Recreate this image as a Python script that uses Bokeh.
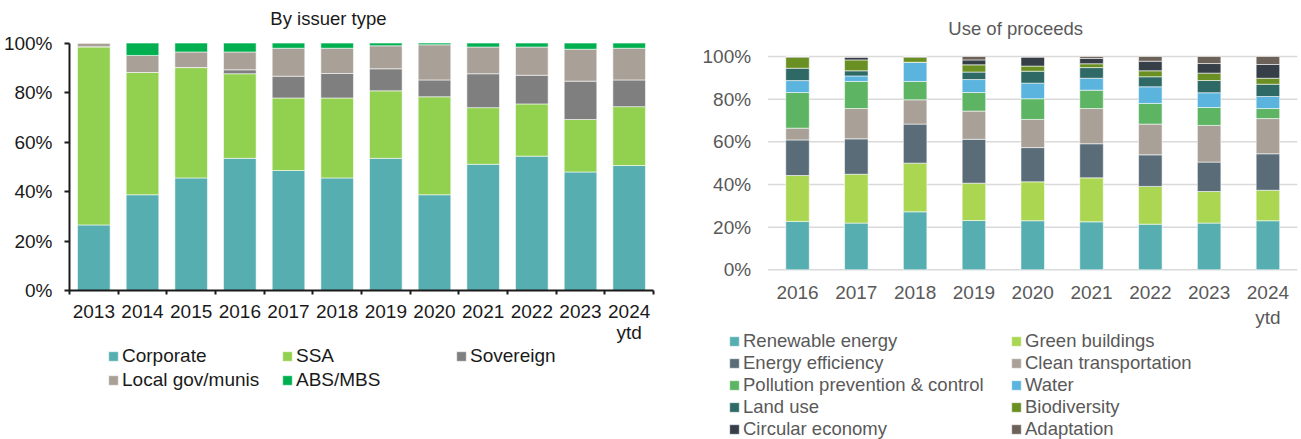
from bokeh.plotting import figure
from bokeh.layouts import row, column
from bokeh.models import Range1d, FixedTicker, ColumnDataSource, Label
from bokeh.core.properties import value
from bokeh.embed import file_html
from bokeh.resources import INLINE

FONT = "Liberation Sans"

# ---------------- data: by issuer type ----------------
years_issuer = ["2013", "2014", "2015", "2016", "2017", "2018", "2019",
                "2020", "2021", "2022", "2023", "2024\nytd"]
corporate = [26.5, 38.7, 45.5, 53.4, 48.5, 45.5, 53.4, 38.7, 51.0, 54.3, 47.9, 50.5]
ssa       = [72.0, 49.4, 44.6, 34.2, 29.3, 32.3, 27.3, 39.6, 22.9, 21.1, 21.2, 23.8]
sovereign = [0.0, 0.0, 0.0, 1.6, 8.8, 9.9, 8.9, 6.8, 13.7, 11.6, 15.5, 10.8]
local_gov = [1.5, 6.9, 6.3, 7.2, 11.3, 10.2, 9.3, 14.2, 10.8, 11.4, 12.9, 12.8]
abs_mbs   = [0.0, 5.0, 3.6, 3.6, 2.1, 2.1, 1.1, 0.7, 1.6, 1.6, 2.5, 2.1]
issuer_names = ["Corporate", "SSA", "Sovereign", "Local gov/munis", "ABS/MBS"]
issuer_colors = ["#57AEB0", "#92D050", "#7F7F7F", "#A9A097", "#00B050"]

# ---------------- data: use of proceeds ----------------
years_use = ["2016", "2017", "2018", "2019", "2020", "2021", "2022", "2023", "2024\nytd"]
renewable   = [22.7, 21.9, 27.2, 23.1, 23.0, 22.5, 21.4, 21.9, 23.0]
green_bld   = [21.5, 22.9, 22.8, 17.5, 18.25, 20.6, 17.7, 14.8, 14.3]
energy_eff  = [16.7, 16.6, 18.3, 20.6, 16.05, 16.0, 14.8, 13.8, 17.1]
clean_trans = [5.5, 14.2, 11.4, 13.2, 13.2, 16.5, 14.4, 17.2, 16.5]
pollution   = [16.7, 12.7, 8.6, 8.7, 9.7, 8.6, 9.7, 8.4, 4.7]
water       = [5.6, 2.6, 9.0, 6.1, 7.3, 5.6, 7.8, 6.9, 5.65]
land_use    = [5.8, 2.4, 0.0, 3.5, 5.6, 5.0, 4.7, 5.75, 5.75]
biodiv      = [5.2, 5.1, 2.4, 3.4, 2.4, 1.8, 2.8, 3.45, 2.8]
circular    = [0.3, 1.2, 0.3, 2.3, 4.2, 2.5, 4.5, 4.5, 6.45]
adaptation  = [0.0, 0.4, 0.0, 1.6, 0.3, 0.9, 2.2, 3.3, 3.75]
use_names = ["Renewable energy", "Green buildings", "Energy efficiency",
             "Clean transportation", "Pollution prevention & control", "Water",
             "Land use", "Biodiversity", "Circular economy", "Adaptation"]
use_colors = ["#56AEB1", "#AAD652", "#5A6C78", "#A9A198", "#5DB462",
              "#5BB4DE", "#2E6966", "#6A8F22", "#363F47", "#6C6259"]

pct_ticks = [0, 20, 40, 60, 80, 100]
pct_labels = ["0%", "20%", "40%", "60%", "80%", "100%"]
titles = ["By issuer type", "Use of proceeds"]

keys_l = ["corporate", "ssa", "sovereign", "local_gov", "abs_mbs"]
keys_r = ["renewable", "green_bld", "energy_eff", "clean_trans", "pollution",
          "water", "land_use", "biodiv", "circular", "adaptation"]

BAR_LINE = dict(line_color="white", line_width=0.8, line_alpha=0.7)


def legend_figure(width, height, x_range, source, keys, colors, names, ncols,
                  label_width, spacing, font_size, text_color, loc, border_left,
                  border_right):
    # legend-only figure: its bar renderers are hidden, only their legend keys show
    f = figure(width=width, height=height, x_range=x_range, y_range=Range1d(-200, -100),
               x_axis_location=None, y_axis_location=None,
               output_backend="svg", toolbar_location=None,
               min_border_left=border_left, min_border_right=border_right,
               min_border_top=0, min_border_bottom=0)
    f.outline_line_color = None
    f.grid.visible = False
    rs = f.vbar_stack(keys, x="x", width=0.5, source=source, color=colors,
                      legend_label=names, **BAR_LINE)
    for r in rs:
        r.visible = False
    lg = f.legend[0]
    lg.location = loc
    lg.orientation = "horizontal"
    lg.ncols = ncols
    lg.glyph_width = 12
    lg.glyph_height = 12
    lg.label_standoff = 3
    lg.label_width = label_width
    lg.label_height = 21
    lg.spacing = spacing
    lg.padding = 0
    lg.margin = 0
    lg.border_line_color = None
    lg.background_fill_alpha = 0
    lg.inactive_fill_alpha = 0
    lg.label_text_font = FONT
    lg.label_text_font_size = font_size
    lg.label_text_color = text_color
    return f


# ================= left chart =================
n_l = len(years_issuer)
src_l = ColumnDataSource(dict(x=list(range(n_l)), corporate=corporate,
                              ssa=ssa, sovereign=sovereign, local_gov=local_gov,
                              abs_mbs=abs_mbs))

P1_H = 345
p1 = figure(width=698, height=P1_H, x_range=Range1d(-0.5, n_l - 0.5),
            y_range=Range1d(0, 117.2), output_backend="svg", toolbar_location=None,
            min_border_left=69, min_border_right=45, min_border_top=0,
            min_border_bottom=52)
p1.vbar_stack(keys_l, x="x", width=0.67, source=src_l, color=issuer_colors, **BAR_LINE)
p1.outline_line_color = None
p1.grid.grid_line_color = None
p1.add_layout(Label(x=4.82, y=110, text=titles[0], text_align="center",
                    text_baseline="middle", text_font=FONT, text_font_size="18.5px",
                    text_color="#1a1a1a"))

xa = p1.xaxis[0]
xa.ticker = FixedTicker(ticks=list(range(n_l)),
                        minor_ticks=[i - 0.5 for i in range(n_l + 1)])
xa.major_label_overrides = {i: lab for i, lab in enumerate(years_issuer)}
xa.major_tick_out = 0
xa.major_tick_in = 0
xa.minor_tick_out = 4
xa.minor_tick_in = 0
xa.minor_tick_line_color = "#1a1a1a"
xa.minor_tick_line_width = 2
xa.axis_line_color = "#1a1a1a"
xa.axis_line_width = 2
xa.major_label_standoff = 6
xa.major_label_text_line_height = 1.0
xa.major_label_text_font = FONT
xa.major_label_text_font_size = "19px"
xa.major_label_text_color = "#1a1a1a"

ya = p1.yaxis[0]
ya.bounds = (0, 100)
ya.ticker = FixedTicker(ticks=pct_ticks, minor_ticks=[])
ya.major_label_overrides = {t: l for t, l in zip(pct_ticks, pct_labels)}
ya.major_tick_out = 5
ya.major_tick_in = 0
ya.major_tick_line_color = "#1a1a1a"
ya.major_tick_line_width = 2
ya.axis_line_color = "#1a1a1a"
ya.axis_line_width = 2
ya.major_label_standoff = 12
ya.major_label_text_font = FONT
ya.major_label_text_font_size = "19px"
ya.major_label_text_color = "#1a1a1a"

L1_H = 439 - P1_H
l1 = legend_figure(698, L1_H, Range1d(-0.5, n_l - 0.5), src_l, keys_l, issuer_colors,
                   issuer_names, 3, 157, 2, "19px", "#1a1a1a", (38, L1_H - 46), 69, 45)

# ================= right chart =================
n_r = len(years_use)
src_r = ColumnDataSource(dict(x=list(range(n_r)), renewable=renewable, green_bld=green_bld,
                              energy_eff=energy_eff, clean_trans=clean_trans,
                              pollution=pollution, water=water, land_use=land_use,
                              biodiv=biodiv, circular=circular, adaptation=adaptation))

P2_H = 330
p2 = figure(width=602, height=P2_H, x_range=Range1d(-1.684, 8.554),
            y_range=Range1d(-5.48, 126.25),
            y_axis_location=None, output_backend="svg", toolbar_location=None,
            min_border_left=0, min_border_right=0, min_border_top=0,
            min_border_bottom=49)
p2.outline_line_color = None
p2.grid.visible = False
# horizontal gridlines across the category band, at the percentage ticks
band_start = [-0.5] * len(pct_ticks)
band_end = [n_r - 0.5] * len(pct_ticks)
p2.segment(x0=band_start, x1=band_end, y0=pct_ticks, y1=pct_ticks,
           line_color="#d9d9d9", line_width=1.5)
p2.vbar_stack(keys_r, x="x", width=0.4, source=src_r, color=use_colors, **BAR_LINE)
# percentage tick labels just left of the category band
p2.text(x=band_start, y=pct_ticks, text=pct_labels, x_offset=-17,
        text_align="right", text_baseline="middle", text_font=value(FONT),
        text_font_size="19px", text_color="#595959")
p2.add_layout(Label(x=3.71, y=113.1, text=titles[1], text_align="center",
                    text_baseline="middle", text_font=FONT, text_font_size="18.5px",
                    text_color="#595959"))

xb = p2.xaxis[0]
xb.ticker = FixedTicker(ticks=list(range(n_r)), minor_ticks=[])
xb.major_label_overrides = {i: lab for i, lab in enumerate(years_use)}
xb.axis_line_color = None
xb.major_tick_line_color = None
xb.minor_tick_line_color = None
xb.major_tick_out = 0
xb.major_tick_in = 0
xb.major_label_standoff = 0
xb.major_label_text_font = FONT
xb.major_label_text_font_size = "19px"
xb.major_label_text_color = "#595959"

L2_H = 439 - P2_H
l2 = legend_figure(602, L2_H, Range1d(-1.684, 8.554), src_r, keys_r, use_colors,
                   use_names, 2, 267, 0, "18.5px", "#595959", (30, L2_H - 110), 0, 0)

layout = row(column(p1, l1), column(p2, l2))
open("out.html", "w").write(file_html(layout, INLINE))
